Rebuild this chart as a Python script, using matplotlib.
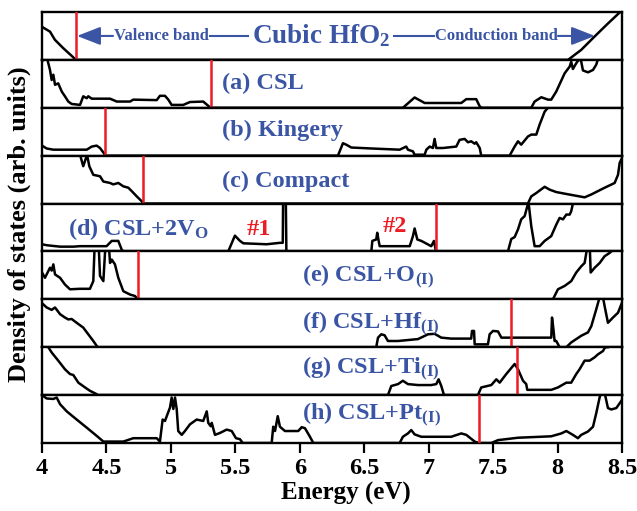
import matplotlib
matplotlib.use("Agg")
import matplotlib.pyplot as plt
import numpy as np

plt.rcParams["font.family"] = ["Liberation Serif", "DejaVu Serif"]
plt.rcParams["font.weight"] = "bold"
plt.rcParams["mathtext.fontset"] = "custom"
plt.rcParams["mathtext.rm"] = "Liberation Serif:bold"
plt.rcParams["mathtext.it"] = "Liberation Serif:bold:italic"
plt.rcParams["mathtext.bf"] = "Liberation Serif:bold"

# ---------------- data (energy in eV, DOS in arb. units per panel) ----------------
dos_cubic = [(4.0, 0.69), (4.062, 0.59), (4.10, 0.42), (4.163, 0.25), (4.256, 0.02), (4.264, 0.0),
             (8.081, 0.0), (8.184, 0.21), (8.288, 0.49), (8.391, 0.76), (8.482, 0.99), (8.5, 1.02)]

dos_csl = [(4.0, 0.96), (4.023, 1.1), (4.036, 1.07), (4.062, 0.79), (4.075, 0.58), (4.088, 0.69),
           (4.101, 0.48), (4.126, 0.51), (4.153, 0.34), (4.178, 0.24), (4.204, 0.13), (4.230, 0.08),
           (4.295, 0.06), (4.320, 0.24), (4.347, 0.20), (4.359, 0.24), (4.386, 0.19), (4.528, 0.19),
           (4.580, 0.13), (4.683, 0.13), (4.708, 0.17), (4.890, 0.16), (4.915, 0.25), (4.954, 0.25),
           (4.980, 0.17), (5.006, 0.06), (5.096, 0.06), (5.148, 0.12), (5.251, 0.13), (5.303, 0.01),
           (5.31, 0.0), (6.80, 0.0), (6.891, 0.215), (6.969, 0.10), (7.253, 0.10), (7.292, 0.18),
           (7.369, 0.18), (7.396, 0.03), (7.41, 0.0), (7.796, 0.0), (7.822, 0.13), (7.874, 0.22),
           (7.926, 0.17), (7.951, 0.17), (7.990, 0.34), (8.055, 0.72), (8.094, 0.86), (8.106, 0.96),
           (8.119, 0.81), (8.145, 0.93), (8.171, 1.03), (8.184, 0.96), (8.197, 0.78), (8.236, 0.74),
           (8.275, 0.79), (8.300, 0.90), (8.313, 1.01)]

dos_kingery = [(4.0, 0.21), (4.036, 0.15), (4.088, 0.125), (4.347, 0.125), (4.386, 0.19), (4.424, 0.21),
               (4.450, 0.16), (4.489, 0.02), (4.49, 0.0), (6.296, 0.0), (6.335, 0.26), (6.360, 0.23),
               (6.40, 0.17), (6.555, 0.15), (6.775, 0.125), (6.826, 0.19), (6.839, 0.125), (6.878, 0.09),
               (6.891, 0.02), (6.969, 0.02), (6.982, 0.125), (7.008, 0.19), (7.033, 0.16), (7.046, 0.35),
               (7.059, 0.16), (7.085, 0.16), (7.111, 0.16), (7.214, 0.19), (7.240, 0.33), (7.279, 0.35),
               (7.305, 0.28), (7.330, 0.30), (7.357, 0.25), (7.369, 0.28), (7.396, 0.16), (7.408, 0.0),
               (7.628, 0.0), (7.667, 0.19), (7.693, 0.30), (7.718, 0.23), (7.770, 0.40), (7.796, 0.44),
               (7.835, 0.44), (7.861, 0.65), (7.90, 0.92), (7.926, 1.0), (7.96, 1.2)]

dos_compact = [(4.0, 1.5), (4.28, 1.15), (4.295, 1.02), (4.320, 0.78), (4.341, 0.95), (4.351, 1.0),
               (4.367, 0.78), (4.398, 0.60), (4.450, 0.57), (4.476, 0.46), (4.528, 0.43), (4.553, 0.40),
               (4.592, 0.43), (4.631, 0.36), (4.670, 0.33), (4.696, 0.26), (4.735, 0.15), (4.773, 0.05),
               (4.786, 0.0), (7.770, 0.0), (7.796, 0.15), (7.835, 0.22), (7.90, 0.35), (7.939, 0.29),
               (7.990, 0.24), (8.068, 0.20), (8.210, 0.13), (8.262, 0.19), (8.365, 0.33), (8.443, 0.43),
               (8.469, 0.60), (8.482, 0.85), (8.5, 0.95)]

dos_csl_2vo = [(4.0, 0.15), (4.036, 0.13), (4.140, 0.10), (4.243, 0.10), (4.295, 0.11), (4.501, 0.11),
               (4.541, 0.22), (4.592, 0.22), (4.618, 0.04), (4.631, 0.0), (5.445, 0.0), (5.484, 0.25),
               (5.497, 0.33), (5.536, 0.22), (5.562, 0.17), (5.743, 0.15), (5.846, 0.18), (5.868, 0.18),
               (5.872, 1.5), (5.890, 1.5), (5.896, 0.0), (6.555, 0.0), (6.563, 0.22), (6.593, 0.25),
               (6.601, 0.39), (6.612, 0.22), (6.620, 0.11), (6.853, 0.11), (6.878, 0.32), (6.891, 0.48),
               (6.912, 0.25), (6.943, 0.22), (7.020, 0.11), (7.041, 0.22), (7.054, 0.04), (7.06, 0.0),
               (7.615, 0.0), (7.641, 0.26), (7.667, 0.30), (7.693, 0.46), (7.718, 0.67), (7.745, 0.74),
               (7.770, 0.99), (7.778, 0.95), (7.796, 0.53), (7.822, 0.11), (7.861, 0.11), (7.90, 0.22),
               (7.951, 0.32), (7.990, 0.56), (8.016, 0.70), (8.042, 0.67), (8.068, 0.77), (8.094, 0.77),
               (8.106, 0.84), (8.119, 1.0)]

dos_csl_o = [(4.0, 0.56), (4.023, 0.45), (4.062, 0.66), (4.075, 0.60), (4.088, 0.73), (4.101, 0.52),
             (4.140, 0.45), (4.178, 0.31), (4.217, 0.21), (4.295, 0.22), (4.372, 0.22), (4.398, 0.38),
             (4.411, 1.3), (4.437, 1.3), (4.450, 0.49), (4.476, 0.38), (4.496, 1.3), (4.514, 1.3),
             (4.528, 0.76), (4.541, 0.83), (4.566, 0.73), (4.592, 0.45), (4.631, 0.17), (4.683, 0.10),
             (4.721, 0.07), (4.739, 0.02), (4.742, 0.0), (7.964, 0.0), (8.003, 0.21), (8.055, 0.28),
             (8.106, 0.38), (8.145, 0.56), (8.184, 0.69), (8.210, 0.76), (8.223, 0.97), (8.236, 1.1),
             (8.250, 1.1), (8.257, 0.56), (8.288, 0.66), (8.327, 0.76), (8.365, 0.90), (8.404, 0.97),
             (8.417, 1.0)]

dos_csl_hf = [(4.0, 0.92), (4.036, 0.83), (4.075, 0.78), (4.101, 0.83), (4.140, 0.69), (4.178, 0.62),
              (4.204, 0.58), (4.230, 0.59), (4.269, 0.51), (4.320, 0.41), (4.359, 0.27), (4.398, 0.13),
              (4.424, 0.03), (4.43, 0.0), (6.593, 0.0), (6.607, 0.20), (6.632, 0.27), (6.658, 0.25),
              (6.684, 0.13), (6.762, 0.13), (6.917, 0.17), (6.995, 0.27), (7.046, 0.28), (7.098, 0.20),
              (7.175, 0.18), (7.330, 0.18), (7.336, 0.34), (7.352, 0.34), (7.357, 0.06), (7.460, 0.06),
              (7.473, 0.27), (7.499, 0.34), (7.538, 0.33), (7.564, 0.20), (7.951, 0.20), (7.957, 0.62),
              (7.967, 0.40), (7.977, 0.13), (7.990, 0.13), (8.016, 0.0), (8.068, 0.0), (8.106, 0.10),
              (8.184, 0.24), (8.236, 0.31), (8.262, 0.44), (8.300, 0.79), (8.327, 1.05), (8.352, 1.05),
              (8.365, 0.86), (8.391, 0.51), (8.430, 0.62), (8.469, 0.72), (8.5, 0.93)]

dos_csl_ti = [(4.0, 1.3), (4.049, 1.0), (4.075, 0.89), (4.126, 0.72), (4.178, 0.54), (4.217, 0.44),
              (4.243, 0.42), (4.282, 0.26), (4.334, 0.16), (4.372, 0.09), (4.424, 0.02), (4.43, 0.0),
              (6.684, 0.0), (6.710, 0.19), (6.762, 0.23), (6.80, 0.30), (6.839, 0.23), (6.917, 0.21),
              (7.020, 0.21), (7.059, 0.23), (7.077, 0.33), (7.098, 0.19), (7.119, 0.0), (7.382, 0.0),
              (7.408, 0.16), (7.486, 0.21), (7.525, 0.33), (7.551, 0.26), (7.602, 0.44), (7.667, 0.65),
              (7.693, 0.54), (7.732, 0.30), (7.757, 0.23), (7.765, 0.11), (7.951, 0.11), (8.003, 0.16),
              (8.068, 0.26), (8.106, 0.26), (8.145, 0.44), (8.171, 0.54), (8.210, 0.72), (8.249, 0.72),
              (8.288, 0.79), (8.313, 0.85), (8.352, 0.92), (8.370, 1.0), (8.391, 1.0), (8.42, 1.02)]

dos_csl_pt = [(4.0, 1.0), (4.036, 0.93), (4.088, 0.92), (4.114, 0.95), (4.140, 0.81), (4.192, 0.66),
              (4.269, 0.49), (4.347, 0.32), (4.424, 0.15), (4.476, 0.03), (4.528, 0.03), (4.631, 0.03),
              (4.708, 0.10), (4.890, 0.10), (4.915, 0.03), (4.936, 0.49), (4.954, 0.46), (4.993, 0.74),
              (5.006, 0.95), (5.019, 0.71), (5.032, 0.95), (5.045, 0.71), (5.057, 0.25), (5.084, 0.17),
              (5.109, 0.25), (5.148, 0.39), (5.200, 0.49), (5.251, 0.46), (5.278, 0.66), (5.290, 0.42),
              (5.309, 0.35), (5.317, 0.42), (5.342, 0.17), (5.381, 0.21), (5.433, 0.28), (5.472, 0.25),
              (5.505, 0.10), (5.536, 0.08), (5.557, 0.0), (5.782, 0.0), (5.794, 0.34), (5.808, 0.25),
              (5.829, 0.56), (5.846, 0.34), (5.885, 0.25), (5.988, 0.25), (6.015, 0.33), (6.040, 0.31),
              (6.079, 0.13), (6.105, 0.0), (6.775, 0.0), (6.80, 0.13), (6.839, 0.20), (6.865, 0.27),
              (6.891, 0.18), (6.943, 0.13), (7.175, 0.13), (7.253, 0.20), (7.292, 0.17), (7.357, 0.03),
              (7.390, 0.0), (7.486, 0.0), (7.538, 0.06), (7.693, 0.11), (7.951, 0.14), (8.029, 0.20),
              (8.068, 0.25), (8.119, 0.17), (8.158, 0.10), (8.184, 0.17), (8.236, 0.24), (8.275, 0.34),
              (8.300, 0.62), (8.327, 0.96), (8.340, 1.05), (8.365, 1.05), (8.391, 0.73), (8.417, 0.70),
              (8.456, 0.73), (8.5, 0.90)]

panel_dos = [dos_cubic, dos_csl, dos_kingery, dos_compact, dos_csl_2vo,
             dos_csl_o, dos_csl_hf, dos_csl_ti, dos_csl_pt]
fermi_levels = [4.264, 5.309, 4.489, 4.786, 7.054, 4.742, 7.641, 7.687, 7.390]
panel_labels = [None, "(a) CSL", "(b) Kingery", "(c) Compact", r"(d) CSL+2V$_\mathrm{O}$",
                r"(e) CSL+O$_\mathrm{(I)}$", r"(f) CSL+Hf$_\mathrm{(I)}$",
                r"(g) CSL+Ti$_\mathrm{(I)}$", r"(h) CSL+Pt$_\mathrm{(I)}$"]
x_ticks = [4, 4.5, 5, 5.5, 6, 6.5, 7, 7.5, 8, 8.5]
x_tick_labels = ["4", "4.5", "5", "5.5", "6", "6.5", "7", "7.5", "8", "8.5"]

# ---------------- layout / style ----------------
label_pos = [None, (5.40, 0.50), (5.40, 0.52), (5.40, 0.46), (4.204, 0.46),
             (6.017, 0.46), (6.017, 0.48), (6.017, 0.54), (6.017, 0.58)]
BLUE = "#3b55a5"
RED = "#ec1c24"
LBL_FS = 17.5

fig = plt.figure(figsize=(6.37, 5.11), dpi=100)
L, R, B, T = 42 / 637, 622 / 637, 68 / 511, 499 / 511
n = len(panel_dos)
h = (T - B) / n
axes = []
for i, (dos, ef) in enumerate(zip(panel_dos, fermi_levels)):
    ax = fig.add_axes([L, T - (i + 1) * h, R - L, h])
    axes.append(ax)
    xs, ys = np.array(dos).T
    ax.plot(xs, ys, color="black", lw=1.8, solid_joinstyle="round", zorder=3)
    ax.axvline(ef, color=RED, lw=1.8, zorder=4)
    ax.set_xlim(4, 8.5)
    ax.set_ylim(0, 1)
    ax.set_yticks([])
    for sp in ax.spines.values():
        sp.set_linewidth(1.7)
    if i < n - 1:
        ax.set_xticks([])
    else:
        ax.set_xticks(x_ticks)
        ax.set_xticklabels(x_tick_labels, fontsize=17.5, fontweight="bold")
        ax.tick_params(axis="x", direction="out", length=7, width=1.6, pad=4)
    if panel_labels[i] is not None:
        lx, ly = label_pos[i]
        ax.text(lx, ly, panel_labels[i], color=BLUE, fontsize=LBL_FS, fontweight="bold",
                ha="left", va="center", transform=ax.get_xaxis_transform(), zorder=5)

# top panel annotations
top = axes[0]
tr = top.get_xaxis_transform()
top.text(6.168, 0.5, r"Cubic HfO$_\mathrm{2}$", color=BLUE, fontsize=19.5, fontweight="bold",
         ha="center", va="center", transform=tr)
top.text(4.927, 0.5, "Valence band", color=BLUE, fontsize=12, fontweight="bold",
         ha="center", va="center", transform=tr)
top.text(7.522, 0.5, "Conduction band", color=BLUE, fontsize=12, fontweight="bold",
         ha="center", va="center", transform=tr)
top.annotate("", xy=(4.272, 0.5), xytext=(4.551, 0.5), xycoords=tr, textcoords=tr,
             arrowprops=dict(arrowstyle="-|>,head_length=0.9,head_width=0.35", color=BLUE, lw=1.5,
                             mutation_scale=16, shrinkA=0, shrinkB=0))
top.annotate("", xy=(8.290, 0.5), xytext=(8.003, 0.5), xycoords=tr, textcoords=tr,
             arrowprops=dict(arrowstyle="-|>,head_length=0.9,head_width=0.35", color=BLUE, lw=1.5,
                             mutation_scale=16, shrinkA=0, shrinkB=0))
top.plot([5.303, 5.598], [0.5, 0.5], color=BLUE, lw=1.5, transform=tr)
top.plot([6.731, 7.041], [0.5, 0.5], color=BLUE, lw=1.5, transform=tr)

# defect markers in panel (d)
axes[4].text(5.588, 0.46, "#1", color=RED, fontsize=LBL_FS, fontweight="bold",
             ha="left", va="center", transform=axes[4].get_xaxis_transform(), zorder=5)
axes[4].text(6.645, 0.53, "#2", color=RED, fontsize=LBL_FS, fontweight="bold",
             ha="left", va="center", transform=axes[4].get_xaxis_transform(), zorder=5)

fig.text(346 / 637, 1 - 493 / 511, "Energy (eV)", fontsize=18, fontweight="bold",
         ha="center", va="center")
fig.text(19 / 637, 1 - 224 / 511, "Density of states (arb. units)", fontsize=19, fontweight="bold",
         ha="center", va="center", rotation=90)

fig.savefig("out.png", dpi=100)
